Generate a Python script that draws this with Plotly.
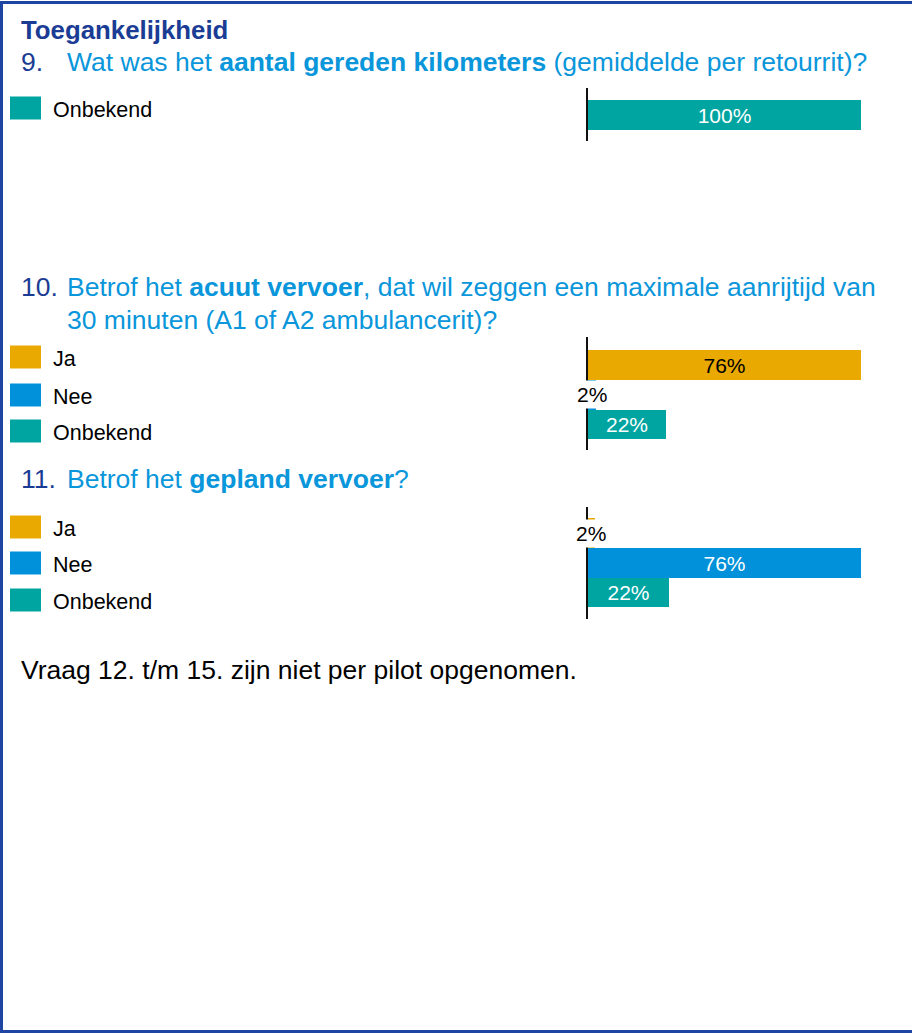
import plotly.graph_objects as go

W, H = 912, 1033

# ---------------- data ----------------
categories = ["Ja", "Nee", "Onbekend"]
q9_categories = ["Onbekend"]
q9_values = [100.0]
q10_values = [76.0, 2.2, 21.8]
q11_values = [1.9, 75.6, 22.4]

title_text = "Toegankelijkheid"
q9_number = "9."
q9_text = "Wat was het <b>aantal gereden kilometers</b> (gemiddelde per retourrit)?"
q10_number = "10."
q10_text_1 = "Betrof het <b>acuut vervoer</b>, dat wil zeggen een maximale aanrijtijd van"
q10_text_2 = "30 minuten (A1 of A2 ambulancerit)?"
q11_number = "11."
q11_text = "Betrof het <b>gepland vervoer</b>?"
footer_text = "Vraag 12. t/m 15. zijn niet per pilot opgenomen."

# ---------------- styles ----------------
FONT = "Liberation Sans, Arial, sans-serif"
DARK_BLUE = "#1A3C94"
LIGHT_BLUE = "#0A96DA"
colors = {"Ja": "#E9A900", "Nee": "#0091DA", "Onbekend": "#00A5A1"}
label_colors = {"Ja": "#000000", "Nee": "#FFFFFF", "Onbekend": "#FFFFFF"}
Q_SIZE = 26.5
LEG_SIZE = 21.5
LBL_SIZE = 21


def px_x(x):
    return x / W


def px_y(y):
    return 1 - y / H


PITCH = 29.7  # px per category
X0_PX, X1_PX = 588, 861

panels = [
    dict(cats=q9_categories, vals=q9_values, top=88, bottom=141, first_center=115,
         legend_y=[108]),
    dict(cats=categories, vals=q10_values, top=337, bottom=450, first_center=365,
         legend_y=[357, 395, 431]),
    dict(cats=categories, vals=q11_values, top=507, bottom=619, first_center=533,
         legend_y=[527, 563, 600]),
]

fig = go.Figure()
annotations = []
shapes = []
layout_axes = {}

for i, p in enumerate(panels):
    n = i + 1
    xa = "x" if n == 1 else f"x{n}"
    ya = "y" if n == 1 else f"y{n}"
    cats, vals = p["cats"], p["vals"]
    pos = list(range(len(cats)))
    texts = [f"{round(v):d}%" if v >= 5 else "" for v in vals]
    fig.add_trace(go.Bar(
        x=vals, y=pos, orientation="h", width=[1] * len(vals),
        marker=dict(color=[colors[c] for c in cats], line=dict(width=0)),
        text=texts, textposition="inside", insidetextanchor="middle",
        textangle=0,
        textfont=dict(family=FONT, size=LBL_SIZE, color=[label_colors[c] for c in cats]),
        xaxis=xa, yaxis=ya, showlegend=False, hoverinfo="skip",
        cliponaxis=False,
    ))
    # small-value labels on white background
    for j, v in enumerate(vals):
        if v < 5:
            annotations.append(dict(
                x=v / 2, y=j, xref=xa, yref=ya, text=f"{round(v):d}%",
                showarrow=False, bgcolor="white", borderpad=2,
                font=dict(family=FONT, size=LBL_SIZE, color="black"),
            ))
    rng_top = -(p["first_center"] - p["top"]) / PITCH
    rng_bottom = (p["bottom"] - p["first_center"]) / PITCH
    xkey = "xaxis" if n == 1 else f"xaxis{n}"
    ykey = "yaxis" if n == 1 else f"yaxis{n}"
    layout_axes[xkey] = dict(
        domain=[px_x(X0_PX), px_x(X1_PX)], range=[0, max(vals)],
        visible=False, anchor=ya, fixedrange=True,
    )
    layout_axes[ykey] = dict(
        domain=[px_y(p["bottom"]), px_y(p["top"])], range=[rng_bottom, rng_top],
        anchor=xa, showline=True, linecolor="#111111", linewidth=2,
        showticklabels=False, ticks="", showgrid=False, zeroline=False,
        fixedrange=True,
    )
    # left-hand legend
    for c, ly in zip(cats, p["legend_y"]):
        shapes.append(dict(type="rect", xref="paper", yref="paper",
                           x0=px_x(10), x1=px_x(41), y0=px_y(ly + 11.5), y1=px_y(ly - 11.5),
                           fillcolor=colors[c], line=dict(width=0)))
        annotations.append(dict(x=px_x(51), y=px_y(ly + 2), xref="paper", yref="paper",
                                xanchor="left", yanchor="middle", text=c, showarrow=False,
                                font=dict(family=FONT, size=LEG_SIZE, color="black")))


def text_ann(x, y, text, color, size):
    return dict(x=px_x(x), y=px_y(y), xref="paper", yref="paper", xanchor="left",
                yanchor="middle", text=text, showarrow=False, align="left",
                font=dict(family=FONT, size=size, color=color))


annotations += [
    text_ann(19, 30, f"<b>{title_text}</b>", DARK_BLUE, 25.8),
    text_ann(19, 62, q9_number, DARK_BLUE, Q_SIZE),
    text_ann(65, 62, q9_text, LIGHT_BLUE, Q_SIZE),
    text_ann(19, 287, q10_number, DARK_BLUE, Q_SIZE),
    text_ann(65, 287, q10_text_1, LIGHT_BLUE, Q_SIZE),
    text_ann(65, 320, q10_text_2, LIGHT_BLUE, Q_SIZE),
    text_ann(19, 479, q11_number, DARK_BLUE, Q_SIZE),
    text_ann(65, 479, q11_text, LIGHT_BLUE, Q_SIZE),
    text_ann(19, 670, footer_text, "#000000", Q_SIZE),
]

# frame border
shapes.append(dict(type="rect", xref="paper", yref="paper",
                   x0=px_x(1.5), x1=px_x(930), y0=px_y(1031.5), y1=px_y(2.5),
                   line=dict(color="#1F45A3", width=3), fillcolor="rgba(0,0,0,0)",
                   layer="above"))

fig.update_layout(
    width=W, height=H, margin=dict(l=0, r=0, t=0, b=0),
    paper_bgcolor="white", plot_bgcolor="white",
    bargap=0, barmode="overlay",
    annotations=annotations, shapes=shapes,
    font=dict(family=FONT),
    **layout_axes,
)

fig.write_html(
    "out.html",
    config={"displayModeBar": False},
    post_script="document.body.style.margin='0';document.body.style.padding='0';"
                "document.documentElement.style.overflow='hidden';",
)
